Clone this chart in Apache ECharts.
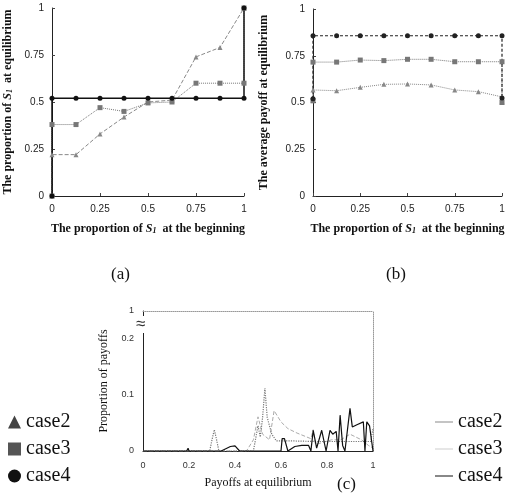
<!DOCTYPE html>
<html>
<head>
<meta charset="utf-8">
<script src="https://cdn.jsdelivr.net/npm/echarts@6/dist/echarts.min.js"></script>
<style>
  html, body { margin: 0; padding: 0; background: #fff; }
  #chart { width: 514px; height: 493px; }
</style>
</head>
<body>
<div id="chart"></div>
<script>
// x positions: proportion of S1 at the beginning (0 and 1 appear twice: limit + endpoint)
var startX = [0, 0, 0.125, 0.25, 0.375, 0.5, 0.625, 0.75, 0.875, 1, 1];

// (a) proportion of S1 at equilibrium
var aCase2 = [0, 0.22, 0.22, 0.33, 0.42, 0.5, 0.51, 0.74, 0.79, 1, 1];
var aCase3 = [0, 0.38, 0.38, 0.47, 0.45, 0.495, 0.5, 0.6, 0.6, 0.6, 1];
var aCase4 = [0, 0.52, 0.52, 0.52, 0.52, 0.52, 0.52, 0.52, 0.52, 0.52, 1];

// (b) average payoff at equilibrium
var bCase2 = [0.51, 0.567, 0.563, 0.581, 0.597, 0.599, 0.594, 0.567, 0.558, 0.53, 0.504];
var bCase3 = [0.51, 0.716, 0.716, 0.727, 0.724, 0.731, 0.731, 0.718, 0.718, 0.718, 0.5];
var bCase4 = [0.52, 0.857, 0.857, 0.857, 0.857, 0.857, 0.857, 0.857, 0.857, 0.857, 0.524];

// (c) proportion of payoffs
var cX2 = [0, 0.45, 0.48, 0.5, 0.52, 0.55, 0.57, 0.6, 0.63, 0.67, 0.7, 0.73, 0.74, 0.75, 0.78, 0.82, 0.86, 0.9, 0.95, 0.98, 1];
var cY2 = [0, 0, 0.02, 0.061, 0.03, 0.02, 0.072, 0.052, 0.04, 0.032, 0.027, 0.022, 0.038, 0.012, 0.015, 0.02, 0.02, 0.03, 0.02, 0.01, 0.005];
var cX3 = [0, 0.29, 0.3, 0.31, 0.32, 0.33, 0.48, 0.5, 0.51, 0.52, 0.53, 0.54, 0.56, 0.58, 0.65, 0.75, 0.85, 0.95, 0.99, 1];
var cY3 = [0, 0, 0.02, 0.038, 0.02, 0, 0, 0.045, 0.025, 0.06, 0.112, 0.06, 0.03, 0.018, 0.018, 0.017, 0.017, 0.017, 0.017, 0.04];
var cX4 = [0, 0.19, 0.196, 0.2, 0.34, 0.36, 0.38, 0.4, 0.42, 0.6, 0.605, 0.615, 0.63, 0.66, 0.69, 0.72, 0.73, 0.74, 0.755, 0.777, 0.796, 0.813, 0.825, 0.84, 0.848, 0.857, 0.868, 0.878, 0.9, 0.91, 0.93, 0.958, 0.965, 0.973, 0.985, 1];
var cY4 = [0, 0, 0.005, 0, 0, 0.004, 0.008, 0.009, 0, 0, 0.022, 0.022, 0, 0.008, 0.01, 0.01, 0, 0.037, 0.005, 0.037, 0, 0.037, 0.03, 0.035, 0, 0.064, 0.01, 0, 0.076, 0.043, 0.047, 0.052, 0, 0.052, 0.045, 0.0];

var xTicksC = [0, 0.2, 0.4, 0.6, 0.8, 1];

function pairs(xs, ys) {
  return xs.map(function (x, i) { return [x, ys[i]]; });
}

var serif = 'Liberation Serif';
var sans = 'Liberation Sans';

var chart = echarts.init(document.getElementById('chart'));

function valueAxis(gridIndex, extra) {
  var base = {
    type: 'value',
    gridIndex: gridIndex,
    min: 0, max: 1, interval: 0.25,
    splitLine: { show: false },
    axisLine: { show: true, lineStyle: { color: '#222', width: 1 } },
    axisTick: { show: true, inside: true, length: 3, lineStyle: { color: '#444' } },
    axisLabel: { color: '#222', fontFamily: sans, fontSize: 10, margin: 8 },
    nameTextStyle: { color: '#111', fontFamily: serif, fontSize: 12, fontWeight: 'bold',
      rich: { i: { fontFamily: serif, fontStyle: 'italic', fontSize: 12, color: '#111' },
              sub: { fontFamily: serif, fontStyle: 'italic', fontSize: 8, color: '#111', verticalAlign: 'bottom', padding: [4, 0, 0, 0] } } },
    nameLocation: 'middle'
  };
  return Object.assign(base, extra);
}

var s1 = '{i|S}{sub|1}';

function abSeries(name, xi, yi, data, symbol, color, lineType, width, size) {
  return {
    name: name, type: 'line', xAxisIndex: xi, yAxisIndex: yi,
    data: pairs(startX, data),
    symbol: symbol, symbolSize: size,
    itemStyle: { color: color },
    lineStyle: { color: color, type: lineType, width: width },
    animation: false, z: 3
  };
}

function cSeries(name, xs, ys, color, lineType, width) {
  return {
    name: name, type: 'line', xAxisIndex: 2, yAxisIndex: 2,
    data: pairs(xs, ys), showSymbol: false,
    lineStyle: { color: color, type: lineType, width: width },
    itemStyle: { color: color },
    animation: false
  };
}

var lineIcon = 'path://M0,6 L18,6 L18,7 L0,7 Z';

var option = {
  backgroundColor: '#fff',
  animation: false,
  title: [
    { text: '(a)', left: 106, top: 261, textStyle: { fontFamily: serif, fontSize: 17, fontWeight: 'normal', color: '#111' } },
    { text: '(b)', left: 381, top: 261, textStyle: { fontFamily: serif, fontSize: 17, fontWeight: 'normal', color: '#111' } },
    { text: '(c)', left: 332, top: 471, textStyle: { fontFamily: serif, fontSize: 17, fontWeight: 'normal', color: '#111' } }
  ],
  grid: [
    { left: 52, top: 8, width: 192, height: 188 },
    { left: 313, top: 9, width: 189, height: 187 },
    { left: 143, top: 311, width: 230, height: 140 }
  ],
  xAxis: [
    valueAxis(0, { name: 'The proportion of ' + s1 + '  at the beginning', nameGap: 27 }),
    valueAxis(1, { name: 'The proportion of ' + s1 + '  at the beginning', nameGap: 27 }),
    {
      type: 'value', gridIndex: 2, min: 0, max: 1, interval: 0.2,
      splitLine: { show: false },
      axisLine: { lineStyle: { color: '#222' } },
      axisTick: { show: false },
      axisLabel: { color: '#333', fontFamily: sans, fontSize: 9, margin: 10,
        formatter: function (v) { return xTicksC.indexOf(Math.round(v * 10) / 10) >= 0 ? String(Math.round(v * 10) / 10) : ''; } },
      name: 'Payoffs at equilibrium', nameLocation: 'middle', nameGap: 26,
      nameTextStyle: { color: '#111', fontFamily: serif, fontSize: 12 }
    },
    {
      type: 'value', gridIndex: 2, position: 'top', min: 0, max: 1,
      splitLine: { show: false }, axisTick: { show: false }, axisLabel: { show: false },
      axisLine: { onZero: false, lineStyle: { color: '#999', type: 'dotted' } }
    }
  ],
  yAxis: [
    valueAxis(0, { name: 'The proportion of ' + s1 + '  at equilibrium', nameGap: 38 }),
    valueAxis(1, { name: 'The average payoff at equilibrium', nameGap: 43 }),
    {
      type: 'value', gridIndex: 2, min: 0, max: 0.25, interval: 0.05,
      splitLine: { show: false },
      axisLine: { lineStyle: { color: '#222' } },
      axisTick: { show: false },
      axisLabel: { color: '#333', fontFamily: sans, fontSize: 9, margin: 9,
        formatter: function (v) {
          if (Math.abs(v - 0.25) < 1e-6) return '1';
          if (Math.abs(v) < 1e-6) return '0';
          if (Math.abs(v - 0.1) < 1e-6) return '0.1';
          if (Math.abs(v - 0.2) < 1e-6) return '0.2';
          return '';
        } },
      name: 'Proportion of payoffs', nameLocation: 'middle', nameGap: 33,
      nameTextStyle: { color: '#111', fontFamily: serif, fontSize: 12 }
    },
    {
      type: 'value', gridIndex: 2, position: 'right', min: 0, max: 0.25,
      splitLine: { show: false }, axisTick: { show: false }, axisLabel: { show: false },
      axisLine: { onZero: false, lineStyle: { color: '#999', type: 'dotted' } }
    }
  ],
  legend: [
    {
      orient: 'vertical', left: 3, bottom: 2, itemGap: 7, itemWidth: 13, itemHeight: 13,
      selectedMode: false,
      textStyle: { fontFamily: serif, fontSize: 20, color: '#111' },
      data: [
        { name: 'case2', icon: 'triangle', itemStyle: { color: '#444' } },
        { name: 'case3', icon: 'rect', itemStyle: { color: '#555' } },
        { name: 'case4', icon: 'circle', itemStyle: { color: '#111' } }
      ]
    },
    {
      orient: 'vertical', left: 430, bottom: 2, itemGap: 7, itemWidth: 18, itemHeight: 13,
      selectedMode: false,
      textStyle: { fontFamily: serif, fontSize: 20, color: '#111' },
      data: [
        { name: 'case2', icon: lineIcon, itemStyle: { color: '#888' } },
        { name: 'case3', icon: lineIcon, itemStyle: { color: '#ccc' } },
        { name: 'case4', icon: lineIcon, itemStyle: { color: '#111' } }
      ]
    }
  ],
  graphic: [
    { type: 'text', left: 136, top: 316, z: 10,
      style: { text: '≈', fontSize: 17, fill: '#333', backgroundColor: '#fff' } }
  ],
  series: [
    abSeries('case2', 0, 0, aCase2, 'triangle', '#888', 'dashed', 1, 5),
    abSeries('case3', 0, 0, aCase3, 'rect', '#777', 'dotted', 1, 5),
    abSeries('case4', 0, 0, aCase4, 'circle', '#111', 'solid', 1.5, 5),
    abSeries('case2', 1, 1, bCase2, 'triangle', '#888', 'dotted', 1, 5),
    abSeries('case3', 1, 1, bCase3, 'rect', '#777', 'dotted', 1, 5),
    abSeries('case4', 1, 1, bCase4, 'circle', '#222', [3, 2], 1.2, 5),
    cSeries('case2', cX2, cY2, '#aaa', 'dashed', 1),
    cSeries('case3', cX3, cY3, '#777', 'dotted', 1.2),
    cSeries('case4', cX4, cY4, '#111', 'solid', 1.2)
  ]
};

chart.setOption(option);
</script>
</body>
</html>
